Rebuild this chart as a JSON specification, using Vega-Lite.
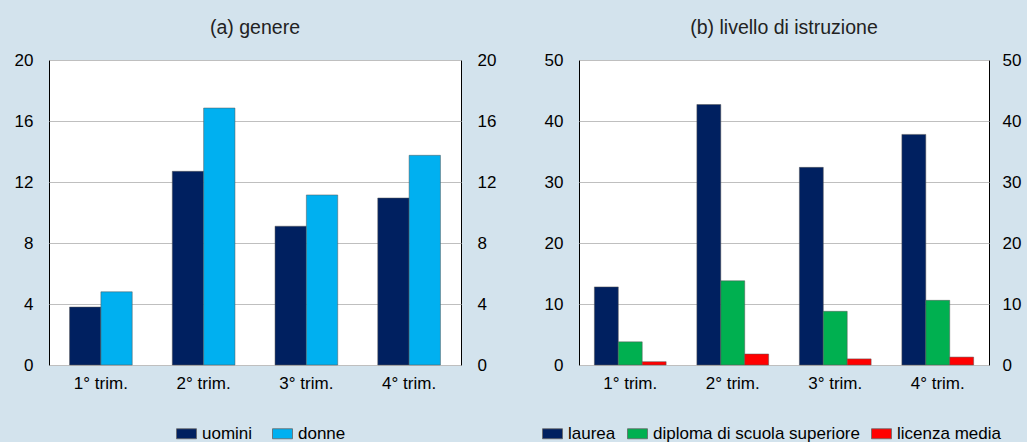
{
  "$schema": "https://vega.github.io/schema/vega-lite/v6.json",
  "background": "#D3E3ED",
  "padding": {"left": 13, "top": 17, "right": 5, "bottom": 5},
  "config": {
    "font": "Liberation Sans",
    "view": {"fill": "white", "stroke": "#000", "strokeWidth": 1},
    "axis": {"labelFont": "Liberation Sans", "labelFontSize": 17, "labelColor": "#000", "title": null, "ticks": false, "domain": false},
    "title": {"font": "Liberation Sans", "fontSize": 19.5, "fontWeight": "normal", "color": "#222", "offset": 13},
    "legend": {"orient": "none", "direction": "horizontal", "title": null, "labelFont": "Liberation Sans", "labelFontSize": 17, "labelColor": "#000", "labelLimit": 0, "symbolType": "M-1,-0.5H1V0.5H-1Z", "symbolSize": 400, "symbolStrokeColor": "#666", "symbolStrokeWidth": 0.8, "symbolOpacity": 1, "labelOffset": 5},
    "concat": {"spacing": 44}
  },
  "datasets": {
    "genere": [
      {"trimestre": "1° trim.", "serie": "uomini", "valore": 3.8},
      {"trimestre": "1° trim.", "serie": "donne", "valore": 4.8},
      {"trimestre": "2° trim.", "serie": "uomini", "valore": 12.7},
      {"trimestre": "2° trim.", "serie": "donne", "valore": 16.85},
      {"trimestre": "3° trim.", "serie": "uomini", "valore": 9.1},
      {"trimestre": "3° trim.", "serie": "donne", "valore": 11.15},
      {"trimestre": "4° trim.", "serie": "uomini", "valore": 10.95},
      {"trimestre": "4° trim.", "serie": "donne", "valore": 13.75}
    ],
    "istruzione": [
      {"trimestre": "1° trim.", "serie": "laurea", "valore": 12.8},
      {"trimestre": "1° trim.", "serie": "diploma di scuola superiore", "valore": 3.8},
      {"trimestre": "1° trim.", "serie": "licenza media", "valore": 0.55},
      {"trimestre": "2° trim.", "serie": "laurea", "valore": 42.7},
      {"trimestre": "2° trim.", "serie": "diploma di scuola superiore", "valore": 13.8},
      {"trimestre": "2° trim.", "serie": "licenza media", "valore": 1.8},
      {"trimestre": "3° trim.", "serie": "laurea", "valore": 32.4},
      {"trimestre": "3° trim.", "serie": "diploma di scuola superiore", "valore": 8.8},
      {"trimestre": "3° trim.", "serie": "licenza media", "valore": 1.0},
      {"trimestre": "4° trim.", "serie": "laurea", "valore": 37.8},
      {"trimestre": "4° trim.", "serie": "diploma di scuola superiore", "valore": 10.6},
      {"trimestre": "4° trim.", "serie": "licenza media", "valore": 1.3}
    ]
  },
  "hconcat": [
    {
      "title": "(a) genere",
      "width": 412,
      "height": 305,
      "data": {"name": "genere"},
      "layer": [
        {
          "mark": {"type": "bar", "stroke": "#555", "strokeWidth": 0.5},
          "encoding": {
            "x": {"field": "trimestre", "type": "nominal", "sort": ["1° trim.", "2° trim.", "3° trim.", "4° trim."], "scale": {"paddingInner": 0.39, "paddingOuter": 0.2}, "axis": {"labelAngle": 0, "labelPadding": 10}},
            "xOffset": {"field": "serie", "type": "nominal", "sort": ["uomini", "donne"]},
            "y": {"field": "valore", "type": "quantitative", "scale": {"domain": [0, 20]}, "axis": {"values": [0, 4, 8, 12, 16, 20], "grid": true, "gridColor": "#BFBFBF", "labelPadding": 16}},
            "color": {"field": "serie", "type": "nominal", "sort": ["uomini", "donne"], "scale": {"domain": ["uomini", "donne"], "range": ["#002060", "#00B0F0"]}, "legend": {"columnPadding": 17, "legendX": 127, "legendY": 363}}
          }
        },
        {
          "mark": {"type": "bar", "opacity": 0},
          "encoding": {
            "x": {"field": "trimestre", "type": "nominal", "sort": ["1° trim.", "2° trim.", "3° trim.", "4° trim."]},
            "xOffset": {"field": "serie", "type": "nominal", "sort": ["uomini", "donne"]},
            "y": {"field": "valore", "type": "quantitative", "axis": {"orient": "right", "values": [0, 4, 8, 12, 16, 20], "grid": false, "labelPadding": 16}}
          }
        }
      ],
      "resolve": {"axis": {"y": "independent"}}
    },
    {
      "title": "(b) livello di istruzione",
      "width": 410,
      "height": 305,
      "data": {"name": "istruzione"},
      "layer": [
        {
          "mark": {"type": "bar", "stroke": "#555", "strokeWidth": 0.5},
          "encoding": {
            "x": {"field": "trimestre", "type": "nominal", "sort": ["1° trim.", "2° trim.", "3° trim.", "4° trim."], "scale": {"paddingInner": 0.3, "paddingOuter": 0.15}, "axis": {"labelAngle": 0, "labelPadding": 10}},
            "xOffset": {"field": "serie", "type": "nominal", "sort": ["laurea", "diploma di scuola superiore", "licenza media"]},
            "y": {"field": "valore", "type": "quantitative", "scale": {"domain": [0, 50]}, "axis": {"values": [0, 10, 20, 30, 40, 50], "grid": true, "gridColor": "#BFBFBF", "labelPadding": 16}},
            "color": {"field": "serie", "type": "nominal", "sort": ["laurea", "diploma di scuola superiore", "licenza media"], "scale": {"domain": ["laurea", "diploma di scuola superiore", "licenza media"], "range": ["#002060", "#00B050", "#FF0000"]}, "legend": {"columnPadding": 9, "legendX": -37, "legendY": 363}}
          }
        },
        {
          "mark": {"type": "bar", "opacity": 0},
          "encoding": {
            "x": {"field": "trimestre", "type": "nominal", "sort": ["1° trim.", "2° trim.", "3° trim.", "4° trim."]},
            "xOffset": {"field": "serie", "type": "nominal", "sort": ["laurea", "diploma di scuola superiore", "licenza media"]},
            "y": {"field": "valore", "type": "quantitative", "axis": {"orient": "right", "values": [0, 10, 20, 30, 40, 50], "grid": false, "labelPadding": 13}}
          }
        }
      ],
      "resolve": {"axis": {"y": "independent"}}
    }
  ],
  "resolve": {"scale": {"color": "independent", "y": "independent", "x": "independent", "xOffset": "independent"}}
}
